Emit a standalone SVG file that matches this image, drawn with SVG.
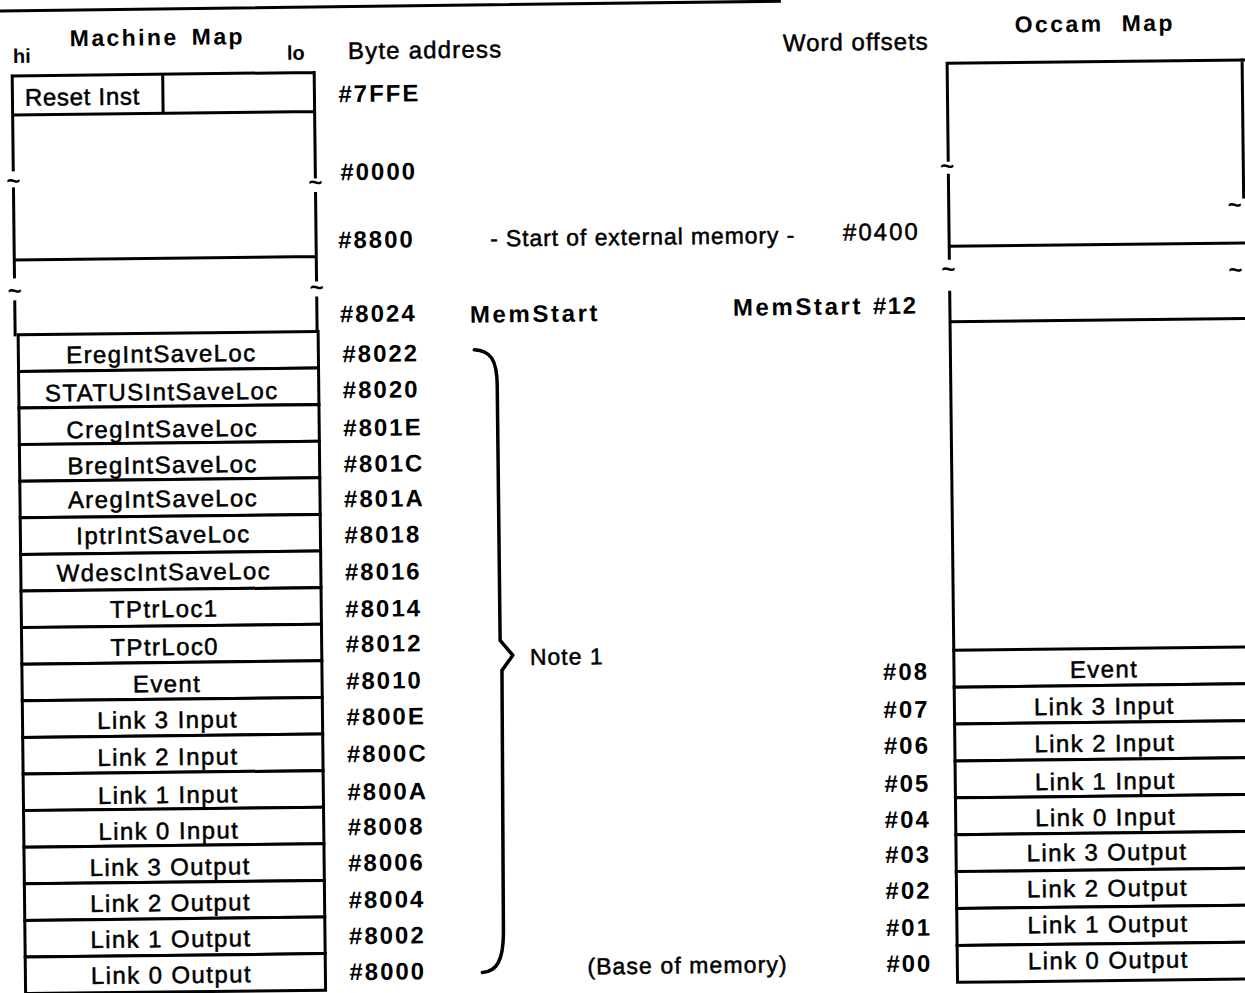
<svg xmlns="http://www.w3.org/2000/svg" width="1245" height="993" viewBox="0 0 1245 993">
<style>
.ln{stroke:#000;stroke-width:3;fill:none;stroke-linecap:square}
.cell{fill:#fff;stroke:#000;stroke-width:3}
.brace{stroke:#000;stroke-width:3.5;fill:none;stroke-linecap:round;stroke-linejoin:round}
text{font-family:"Liberation Sans",Arial,Helvetica,sans-serif;fill:#000}
.lbl{font-size:24px;letter-spacing:1.4px;text-anchor:middle;stroke:#000;stroke-width:0.5px}
.lft{font-size:24px;letter-spacing:0.7px;stroke:#000;stroke-width:0.5px}
.adr{font-size:24px;font-weight:bold;letter-spacing:2px}
.num{font-size:24px;letter-spacing:2px;stroke:#000;stroke-width:0.5px}
.hdr{font-size:23px;font-weight:bold;letter-spacing:2.4px}
.big{font-size:24px;font-weight:bold;letter-spacing:2.6px}
.txt{font-size:23px;letter-spacing:1px;stroke:#000;stroke-width:0.5px}
.hl{font-size:20px;font-weight:bold}
.brk{font-size:24px;font-weight:bold;text-anchor:middle}
</style>
<rect x="0" y="0" width="1245" height="993" fill="#fff"/>
<g transform="rotate(-0.65 622 496)">
<line id="rule" class="ln" x1="-10" y1="4" x2="785" y2="3"/>

<g id="headings">
<text class="hl" x="18" y="56">hi</text>
<text class="hdr" x="75" y="40">Machine</text>
<text class="hdr" x="197" y="40">Map</text>
<text class="hl" x="292" y="56">lo</text>
<text class="lft" x="353" y="56" style="letter-spacing:1.2px">Byte address</text>
<text class="lft" x="788" y="53" style="letter-spacing:1px">Word offsets</text>
<text class="hdr" x="1020" y="37">Occam</text>
<text class="hdr" x="1127" y="37">Map</text>
</g>

<g id="m-upper">
<path class="ln" d="M17,69 H319 M17,108 H319 M167.5,69 V108 M17,253 H319 M17,69 V163 M17,182 V270 M17,295 V328 M319,69 V173.5 M319,190 V276.5 M319,294.5 V328"/>
<text class="lft" x="29.5" y="99">Reset Inst</text>
<text class="brk" x="17" y="182">~</text>
<text class="brk" x="17" y="292">~</text>
<text class="brk" x="319" y="187">~</text>
<text class="brk" x="319" y="292">~</text>
<text class="adr" x="343" y="99">#7FFE</text>
<text class="adr" x="344" y="177">#0000</text>
<text class="adr" x="341" y="245">#8800</text>
<text class="adr" x="342" y="319">#8024</text>
<text class="txt" x="493" y="245" style="letter-spacing:0.9px">- Start of external memory -</text>
<text class="big" x="472" y="321">MemStart</text>
</g>

<g id="m-ereg"><rect class="cell" x="20" y="328" width="300" height="36.6"/><text class="lbl" x="163" y="357">EregIntSaveLoc</text><text class="adr" x="344" y="359">#8022</text></g>
<g id="m-status"><rect class="cell" x="20" y="364.6" width="300" height="36.6"/><text class="lbl" x="163" y="395">STATUSIntSaveLoc</text><text class="adr" x="344" y="395">#8020</text></g>
<g id="m-creg"><rect class="cell" x="20" y="401.2" width="300" height="36.6"/><text class="lbl" x="163" y="432">CregIntSaveLoc</text><text class="adr" x="344" y="433">#801E</text></g>
<g id="m-breg"><rect class="cell" x="20" y="437.8" width="300" height="36.6"/><text class="lbl" x="163" y="468">BregIntSaveLoc</text><text class="adr" x="344" y="469">#801C</text></g>
<g id="m-areg"><rect class="cell" x="20" y="474.4" width="300" height="36.6"/><text class="lbl" x="163" y="502">AregIntSaveLoc</text><text class="adr" x="344" y="504">#801A</text></g>
<g id="m-iptr"><rect class="cell" x="20" y="511" width="300" height="36.6"/><text class="lbl" x="163" y="538">IptrIntSaveLoc</text><text class="adr" x="344" y="540">#8018</text></g>
<g id="m-wdesc"><rect class="cell" x="20" y="547.6" width="300" height="36.6"/><text class="lbl" x="163" y="575">WdescIntSaveLoc</text><text class="adr" x="344" y="577">#8016</text></g>
<g id="m-tptr1"><rect class="cell" x="20" y="584.2" width="300" height="36.6"/><text class="lbl" x="163" y="612">TPtrLoc1</text><text class="adr" x="344" y="614">#8014</text></g>
<g id="m-tptr0"><rect class="cell" x="20" y="620.8" width="300" height="36.6"/><text class="lbl" x="163" y="650">TPtrLoc0</text><text class="adr" x="344" y="649">#8012</text></g>
<g id="m-event"><rect class="cell" x="20" y="657.4" width="300" height="36.6"/><text class="lbl" x="165" y="687">Event</text><text class="adr" x="344" y="686">#8010</text></g>
<g id="m-l3in"><rect class="cell" x="20" y="694" width="300" height="36.6"/><text class="lbl" x="165" y="723">Link 3 Input</text><text class="adr" x="344" y="722">#800E</text></g>
<g id="m-l2in"><rect class="cell" x="20" y="730.6" width="300" height="36.6"/><text class="lbl" x="165" y="760">Link 2 Input</text><text class="adr" x="344" y="759">#800C</text></g>
<g id="m-l1in"><rect class="cell" x="20" y="767.2" width="300" height="36.6"/><text class="lbl" x="165" y="798">Link 1 Input</text><text class="adr" x="344" y="797">#800A</text></g>
<g id="m-l0in"><rect class="cell" x="20" y="803.8" width="300" height="36.6"/><text class="lbl" x="165" y="834">Link 0 Input</text><text class="adr" x="344" y="832">#8008</text></g>
<g id="m-l3out"><rect class="cell" x="20" y="840.4" width="300" height="36.6"/><text class="lbl" x="166" y="870">Link 3 Output</text><text class="adr" x="344" y="868">#8006</text></g>
<g id="m-l2out"><rect class="cell" x="20" y="877" width="300" height="36.6"/><text class="lbl" x="166" y="906">Link 2 Output</text><text class="adr" x="344" y="905">#8004</text></g>
<g id="m-l1out"><rect class="cell" x="20" y="913.6" width="300" height="36.6"/><text class="lbl" x="166" y="942">Link 1 Output</text><text class="adr" x="344" y="941">#8002</text></g>
<g id="m-l0out"><rect class="cell" x="20" y="950.2" width="300" height="36.6"/><text class="lbl" x="166" y="978">Link 0 Output</text><text class="adr" x="344" y="977">#8000</text></g>

<g id="o-upper">
<path class="ln" d="M952,67 H1262 M952,250 H1262 M952,325.5 H1262 M952,67 V164 M952,179 V262 M952,296 V654 M1247,67 V204"/>
<text class="brk" x="951" y="178">~</text>
<text class="brk" x="951" y="281">~</text>
<text class="brk" x="1238" y="220">~</text>
<text class="brk" x="1238" y="285">~</text>
<text class="num" x="846" y="243">#0400</text>
<text class="big" x="735" y="317">MemStart</text>
<text class="adr" x="875" y="317" style="letter-spacing:1.5px">#12</text>
</g>

<g id="o-event"><rect class="cell" x="952" y="654" width="310" height="36.9"/><text class="lbl" x="1102" y="683">Event</text><text class="adr" x="881" y="683">#08</text></g>
<g id="o-l3in"><rect class="cell" x="952" y="690.9" width="310" height="36.9"/><text class="lbl" x="1102" y="720">Link 3 Input</text><text class="adr" x="881" y="721">#07</text></g>
<g id="o-l2in"><rect class="cell" x="952" y="727.8" width="310" height="36.9"/><text class="lbl" x="1102" y="757">Link 2 Input</text><text class="adr" x="881" y="757">#06</text></g>
<g id="o-l1in"><rect class="cell" x="952" y="764.7" width="310" height="36.9"/><text class="lbl" x="1102" y="795">Link 1 Input</text><text class="adr" x="881" y="795">#05</text></g>
<g id="o-l0in"><rect class="cell" x="952" y="801.6" width="310" height="36.9"/><text class="lbl" x="1102" y="831">Link 0 Input</text><text class="adr" x="881" y="831">#04</text></g>
<g id="o-l3out"><rect class="cell" x="952" y="838.5" width="310" height="36.9"/><text class="lbl" x="1103" y="866">Link 3 Output</text><text class="adr" x="881" y="866">#03</text></g>
<g id="o-l2out"><rect class="cell" x="952" y="875.4" width="310" height="36.9"/><text class="lbl" x="1103" y="902">Link 2 Output</text><text class="adr" x="881" y="902">#02</text></g>
<g id="o-l1out"><rect class="cell" x="952" y="912.3" width="310" height="36.9"/><text class="lbl" x="1103" y="938">Link 1 Output</text><text class="adr" x="881" y="939">#01</text></g>
<g id="o-l0out"><rect class="cell" x="952" y="949.2" width="310" height="36.9"/><text class="lbl" x="1103" y="974">Link 0 Output</text><text class="adr" x="881" y="975">#00</text></g>

<g id="connectors">
<path class="brace" d="M476,348 C492,349 498.5,358 498.5,384 L498.5,639 L511,654 L500,669 L498.5,929 C498.5,960 491,970 477,971"/>
</g>
<g id="notes">
<text class="txt" x="528" y="664">Note 1</text>
<text class="txt" x="582" y="974" style="letter-spacing:1.1px">(Base of memory)</text>
</g>
</g>
</svg>
